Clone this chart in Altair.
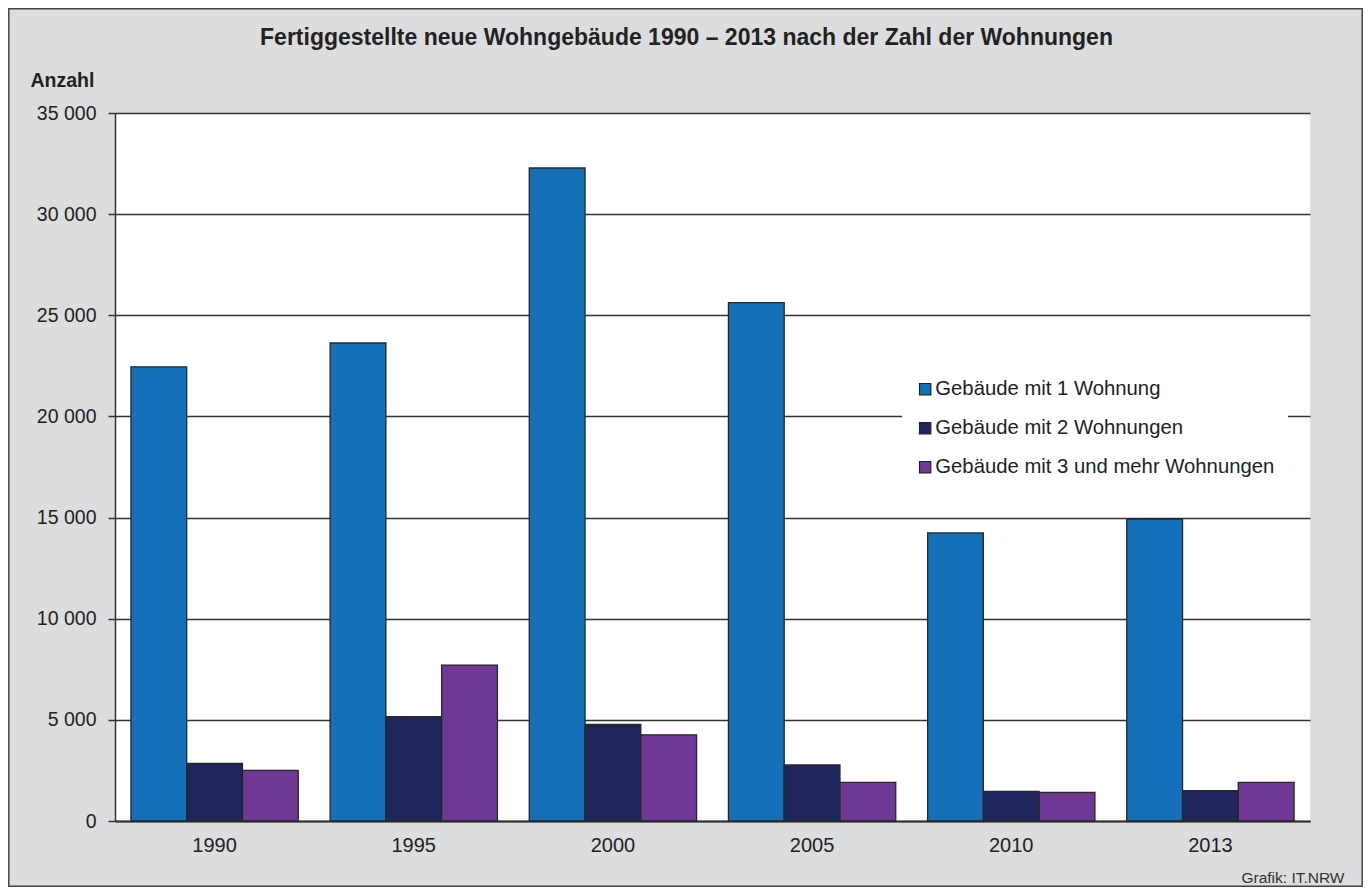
import altair as alt
import pandas as pd

years = ["1990", "1995", "2000", "2005", "2010", "2013"]
series = ["Gebäude mit 1 Wohnung", "Gebäude mit 2 Wohnungen", "Gebäude mit 3 und mehr Wohnungen"]
one_flat = [22450, 23630, 32280, 25630, 14240, 14930]
two_flats = [2850, 5160, 4770, 2770, 1460, 1500]
three_plus = [2500, 7710, 4260, 1910, 1410, 1910]
colors = ["#1470b8", "#1e265c", "#6e3894"]
y_ticks = [0, 5000, 10000, 15000, 20000, 25000, 30000, 35000]

rows = []
for vals, s in zip([one_flat, two_flats, three_plus], series):
    for yr, v in zip(years, vals):
        rows.append({"Jahr": yr, "Art": s, "Anzahl": v})
df = pd.DataFrame(rows)

FONT = "Liberation Sans"
W, H = 1195, 708

bars = alt.Chart(df).mark_bar(stroke="#262626", strokeWidth=1.3).encode(
    x=alt.X("Jahr:N", sort=years,
            scale=alt.Scale(paddingInner=0.16, paddingOuter=0.08),
            axis=alt.Axis(title="Grafik: IT.NRW", titleX=1229, titleY=61,
                          titleAlign="right", titleBaseline="alphabetic",
                          titleFontSize=15.5, titleFontWeight="normal",
                          titleColor="#333", titleFont=FONT,
                          labelAngle=0, ticks=False, labelPadding=14,
                          labelFontSize=20, labelColor="#222", labelFont=FONT,
                          domainColor="#333", domainWidth=2, grid=False)),
    xOffset=alt.XOffset("Art:N", sort=series, scale=alt.Scale(paddingInner=0, paddingOuter=0)),
    y=alt.Y("Anzahl:Q",
            scale=alt.Scale(domain=[0, 35000], nice=False),
            axis=alt.Axis(values=y_ticks, title="Anzahl", titleAngle=0,
                          titleAlign="left", titleBaseline="alphabetic",
                          titleX=-85, titleY=-27, titleFontSize=19.5,
                          titleFontWeight="bold", titleColor="#222", titleFont=FONT,
                          labelExpr="replace(format(datum.value, ','), ',', ' ')",
                          labelFontSize=19.5, labelColor="#222", labelFont=FONT,
                          labelPadding=12, tickSize=7, tickColor="#333", tickWidth=1.5,
                          domainColor="#333", domainWidth=1.5,
                          grid=True, gridColor="#333", gridWidth=1.5)),
    color=alt.Color("Art:N", sort=series,
                    scale=alt.Scale(domain=series, range=colors),
                    legend=alt.Legend(title=None, orient="none", legendX=787, legendY=253,
                                      fillColor="white", padding=13, rowPadding=18,
                                      symbolType="square", symbolSize=128,
                                      symbolStrokeColor="#222", symbolStrokeWidth=1.2,
                                      symbolOpacity=1, labelOffset=0,
                                      labelFontSize=20.3, labelColor="#222", labelFont=FONT,
                                      labelLimit=500)),
)

border = alt.Chart(alt.InlineData(values=[{"a": 1}])).mark_rect(
    fill="transparent", stroke="#444", strokeWidth=1.5
).encode(
    x=alt.value(-106.2), x2=alt.value(W + 52.2),
    y=alt.value(-104.2), y2=alt.value(H + 65.2),
)

chart = alt.layer(border, bars).properties(
    width=W, height=H,
    autosize=alt.AutoSizeParams(type="none"),
    padding={"left": 107, "top": 105, "right": 53, "bottom": 66},
    background="#dcdddf",
    title=alt.TitleParams(
        "Fertiggestellte neue Wohngebäude 1990 – 2013 nach der Zahl der Wohnungen",
        fontSize=23, fontWeight="bold", font=FONT, color="#222",
        anchor="middle", frame="group", dx=-26, offset=0, dy=60, baseline="alphabetic"),
).configure_view(fill="white", strokeWidth=0)

chart.save("out.html", embed_options={"renderer": "svg", "actions": False})
